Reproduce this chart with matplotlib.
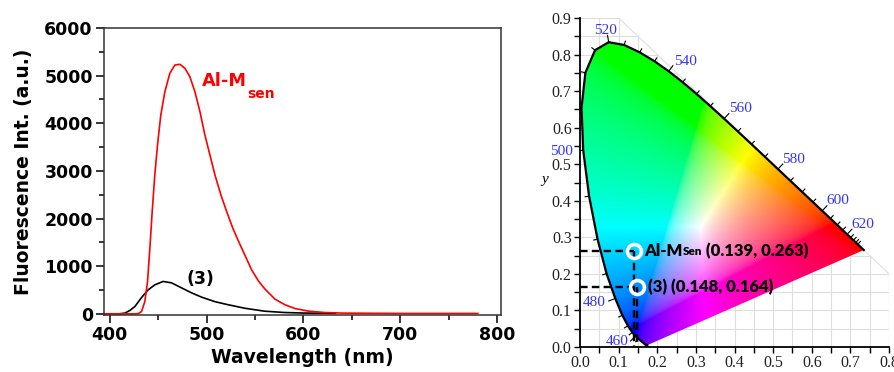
import numpy as np
import matplotlib
matplotlib.use('Agg')
import matplotlib.pyplot as plt
from matplotlib.patches import Polygon

# ---- emission spectra ----
red_nm = [394, 428, 430, 432.8, 436.2, 439, 441.4, 443.8, 446.5, 449.3, 452.7, 456.9, 462, 467.2,
          472.4, 477.6, 482.7, 487.9, 493.1, 498.2, 503.4, 508.6, 515, 521, 527, 533, 540, 546.5,
          553.4, 560.3, 570.6, 581, 591.3, 605, 622, 640, 700, 780]
red_int = [0, 0, 10, 48, 258, 678, 1378, 2146, 2916, 3545, 4175, 4663, 5049, 5223,
           5238, 5154, 4978, 4663, 4244, 3755, 3335, 2916, 2480, 2130, 1800, 1520, 1210, 923,
           692, 518, 308, 189, 111, 57, 27, 15, 8, 8]
blk_nm = [394, 410, 415.5, 420.7, 425.9, 432.8, 439.6, 446.5, 455.1, 463.8, 474.1, 484.5, 494.8,
          508.6, 522.3, 540, 560, 580, 600, 620, 633]
blk_int = [0, 0, 15, 70, 153, 342, 503, 608, 680, 650, 545, 440, 350,
           255, 190, 115, 55, 28, 16, 12, 10]

# ---- CIE 1931 spectral locus (right panel) ----
locus_nm = [380, 400, 410, 420, 430, 440, 445, 450, 455, 460, 465, 470, 475, 480, 485, 490, 495,
            500, 505, 510, 515, 520, 525, 530, 535, 540, 545, 550, 555, 560, 565, 570, 575,
            580, 585, 590, 595, 600, 605, 610, 615, 620, 625, 630, 635, 640, 650, 660, 680, 700]
locus_x = [0.1741, 0.1733, 0.1726, 0.1714, 0.1689, 0.1644, 0.1611, 0.1566, 0.1510, 0.1440, 0.1355,
           0.1241, 0.1096, 0.0913, 0.0687, 0.0454, 0.0235, 0.0082, 0.0039, 0.0139, 0.0389, 0.0743,
           0.1142, 0.1547, 0.1929, 0.2296, 0.2658, 0.3016, 0.3373, 0.3731, 0.4087, 0.4441, 0.4788,
           0.5125, 0.5448, 0.5752, 0.6029, 0.6270, 0.6482, 0.6658, 0.6801, 0.6915, 0.7006, 0.7079,
           0.7140, 0.7190, 0.7260, 0.7300, 0.7334, 0.7347]
locus_y = [0.0050, 0.0048, 0.0048, 0.0051, 0.0069, 0.0109, 0.0138, 0.0177, 0.0227, 0.0297, 0.0399,
           0.0578, 0.0868, 0.1327, 0.2007, 0.2950, 0.4127, 0.5384, 0.6548, 0.7502, 0.8120, 0.8338,
           0.8262, 0.8059, 0.7816, 0.7543, 0.7243, 0.6923, 0.6589, 0.6245, 0.5896, 0.5547, 0.5202,
           0.4866, 0.4544, 0.4242, 0.3965, 0.3725, 0.3514, 0.3340, 0.3197, 0.3083, 0.2993, 0.2920,
           0.2859, 0.2809, 0.2740, 0.2700, 0.2666, 0.2653]
wl_labels = [460, 480, 500, 520, 540, 560, 580, 600, 620]
wl_label_pos = [(0.096, 0.014), (0.036, 0.123), (-0.047, 0.536), (0.067, 0.867), (0.272, 0.782),
                (0.415, 0.653), (0.554, 0.514), (0.668, 0.400), (0.733, 0.336)]

cie_names = ['Al-M', '(3)']
cie_x = [0.139, 0.148]
cie_y = [0.263, 0.164]

fig = plt.figure(figsize=(8.94, 3.72), dpi=100)

# ================= left: spectra =================
ax = fig.add_axes([0.1163, 0.1532, 0.4441, 0.7715])
ax.plot(blk_nm, blk_int, color='black', lw=1.2)
ax.plot(red_nm, red_int, color='#ff0000', lw=1.2)
ax.set_xlim(394, 804)
ax.set_ylim(-25, 6000)
ax.set_xticks([400, 500, 600, 700, 800])
ax.set_xticks([450, 550, 650, 750], minor=True)
ax.set_yticks(range(0, 6001, 1000))
ax.set_yticks(range(500, 6000, 1000), minor=True)
ax.tick_params(which='major', direction='out', length=6, width=1.1, pad=2)
ax.tick_params(which='minor', direction='out', length=3.5, width=1.1)
for lab in ax.get_xticklabels() + ax.get_yticklabels():
    lab.set_fontfamily('DejaVu Sans')
    lab.set_fontweight('bold')
    lab.set_fontsize(12.5)
for s in ax.spines.values():
    s.set_linewidth(1.1)
    s.set_color('#333333')
ax.set_xlabel('Wavelength (nm)', fontsize=13.5, fontweight='bold', family='DejaVu Sans', labelpad=3)
ax.set_ylabel('Fluorescence Int. (a.u.)', fontsize=13.5, fontweight='bold', family='DejaVu Sans')
ax.yaxis.set_label_coords(-0.18, 0.5)

t = ax.text(495, 4790, 'Al-M', color='#ff0000', fontsize=12.8, fontweight='bold',
            family='DejaVu Sans', va='baseline')
ax.annotate('sen', xy=(1, 0), xycoords=t, xytext=(0.5, -6), textcoords='offset points',
            color='#ff0000', fontsize=10, fontweight='bold', family='DejaVu Sans', va='baseline')
ax.text(494, 734, '(3)', color='black', fontsize=12.5, fontweight='bold',
        family='DejaVu Sans', ha='center', va='center')

# ================= right: CIE diagram =================
bx = fig.add_axes([0.6488, 0.0672, 0.3456, 0.8844])
bx.set_xlim(0, 0.8)
bx.set_ylim(0, 0.9)
for side in ['top', 'right']:
    bx.spines[side].set_visible(False)
for side in ['left', 'bottom']:
    bx.spines[side].set_linewidth(1.3)
    bx.spines[side].set_color('black')

# background grid, limited to x + y <= 1
gcol = '#dedede'
for g in np.arange(0.05, 0.8001, 0.05):
    bx.plot([g, g], [0, min(0.9, 1 - g)], color=gcol, lw=0.8, zorder=0)
for g in np.arange(0.05, 0.9001, 0.05):
    bx.plot([0, min(0.8, 1 - g)], [g, g], color=gcol, lw=0.8, zorder=0)
bx.plot([0.1, 0.8], [0.9, 0.2], color=gcol, lw=0.8, zorder=0)
bx.plot([0.8, 0.8], [0, 0.2], color=gcol, lw=0.8, zorder=0)

# colour fill inside the locus
gx = np.linspace(0, 0.75, 500)
gy = np.linspace(0.001, 0.85, 500)
GX, GY = np.meshgrid(gx, gy)
XYZ = np.stack([GX / GY, np.ones_like(GX), (1 - GX - GY) / GY], axis=-1)
M = np.array([[3.2406, -1.5372, -0.4986],
              [-0.9689, 1.8758, 0.0415],
              [0.0557, -0.2040, 1.0570]])
rgb = np.clip(XYZ @ M.T, 0, None)
rgb = rgb / (rgb.max(axis=-1, keepdims=True) + 1e-9)
rgb = np.where(rgb <= 0.0031308, 12.92 * rgb, 1.055 * rgb ** (1 / 2.4) - 0.055)
im = bx.imshow(np.clip(rgb, 0, 1), extent=(0, 0.75, 0.001, 0.85), origin='lower',
               aspect='auto', interpolation='bilinear', zorder=1)
shape = Polygon(np.column_stack([locus_x, locus_y]), closed=True, fc='none', ec='none')
bx.add_patch(shape)
im.set_clip_path(shape)

bx.plot(locus_x, locus_y, color='black', lw=1.6, zorder=3)

# wavelength ticks along the locus
sx, sy = 386.0, 366.0
lx = np.array(locus_x)
ly = np.array(locus_y)
for i, wl in enumerate(locus_nm):
    if wl < 455 or wl > 640:
        continue
    tx = (lx[i + 1] - lx[i - 1]) * sx
    ty = (ly[i + 1] - ly[i - 1]) * sy
    n = np.hypot(tx, ty)
    nx, ny = -ty / n, tx / n
    L = 7 if wl in wl_labels else 4
    bx.plot([lx[i], lx[i] + nx * L / sx], [ly[i], ly[i] + ny * L / sy],
            color='black', lw=0.8, zorder=3)
for wl, (px, py) in zip(wl_labels, wl_label_pos):
    bx.text(px, py, str(wl), color='#3333ff', fontsize=11, family='Liberation Serif',
            ha='center', va='center', zorder=4)

# chromaticity points
for xv, yv in zip(cie_x, cie_y):
    bx.plot([0, xv], [yv, yv], color='black', lw=1.7, ls=(0, (3.2, 1.8)), zorder=5)
    bx.plot([xv, xv], [yv, 0], color='black', lw=1.7, ls=(0, (3.2, 1.8)), zorder=5)
    bx.plot(xv, yv, 'o', ms=10, mfc='none', mec='white', mew=2.6, zorder=6)

t1 = bx.text(0.166, cie_y[0], cie_names[0], fontsize=12, fontweight='heavy', family='Lato',
             va='center', zorder=7)
t2 = bx.annotate('Sen', xy=(1, 0.12), xycoords=t1, xytext=(0.3, 0), textcoords='offset points',
                 fontsize=8.5, fontweight='heavy', family='Lato', va='bottom', zorder=7)
bx.annotate(' (%.3f, %.3f)' % (cie_x[0], cie_y[0]), xy=(1, 0), xycoords=t2, xytext=(0, -1.4),
            textcoords='offset points', fontsize=12, fontweight='heavy', family='Lato',
            va='bottom', zorder=7)
bx.text(0.177, cie_y[1], '%s (%.3f, %.3f)' % (cie_names[1], cie_x[1], cie_y[1]), fontsize=12,
        fontweight='heavy', family='Lato', va='center', zorder=7)

bx.set_xticks(np.arange(0, 0.81, 0.1))
bx.set_yticks(np.arange(0, 0.91, 0.1))
bx.set_xticks(np.arange(0.05, 0.8, 0.1), minor=True)
bx.set_yticks(np.arange(0.05, 0.9, 0.1), minor=True)
bx.set_xticklabels(['%.1f' % v for v in np.arange(0, 0.81, 0.1)])
bx.set_yticklabels(['%.1f' % v for v in np.arange(0, 0.91, 0.1)])
bx.tick_params(which='both', direction='out', length=4, width=1.0, color='black')
bx.tick_params(which='major', pad=2)
for lab in bx.get_xticklabels() + bx.get_yticklabels():
    lab.set_fontfamily('Liberation Serif')
    lab.set_fontsize(11.5)
    lab.set_color('#222222')
bx.set_xlabel('x', style='italic', family='Liberation Serif', fontsize=9)
bx.set_ylabel('y', style='italic', family='Liberation Serif', fontsize=11, rotation=0)
bx.xaxis.set_label_coords(0.497, -0.066)
bx.yaxis.set_label_coords(-0.113, 0.49)

fig.savefig('out.png', dpi=100)
